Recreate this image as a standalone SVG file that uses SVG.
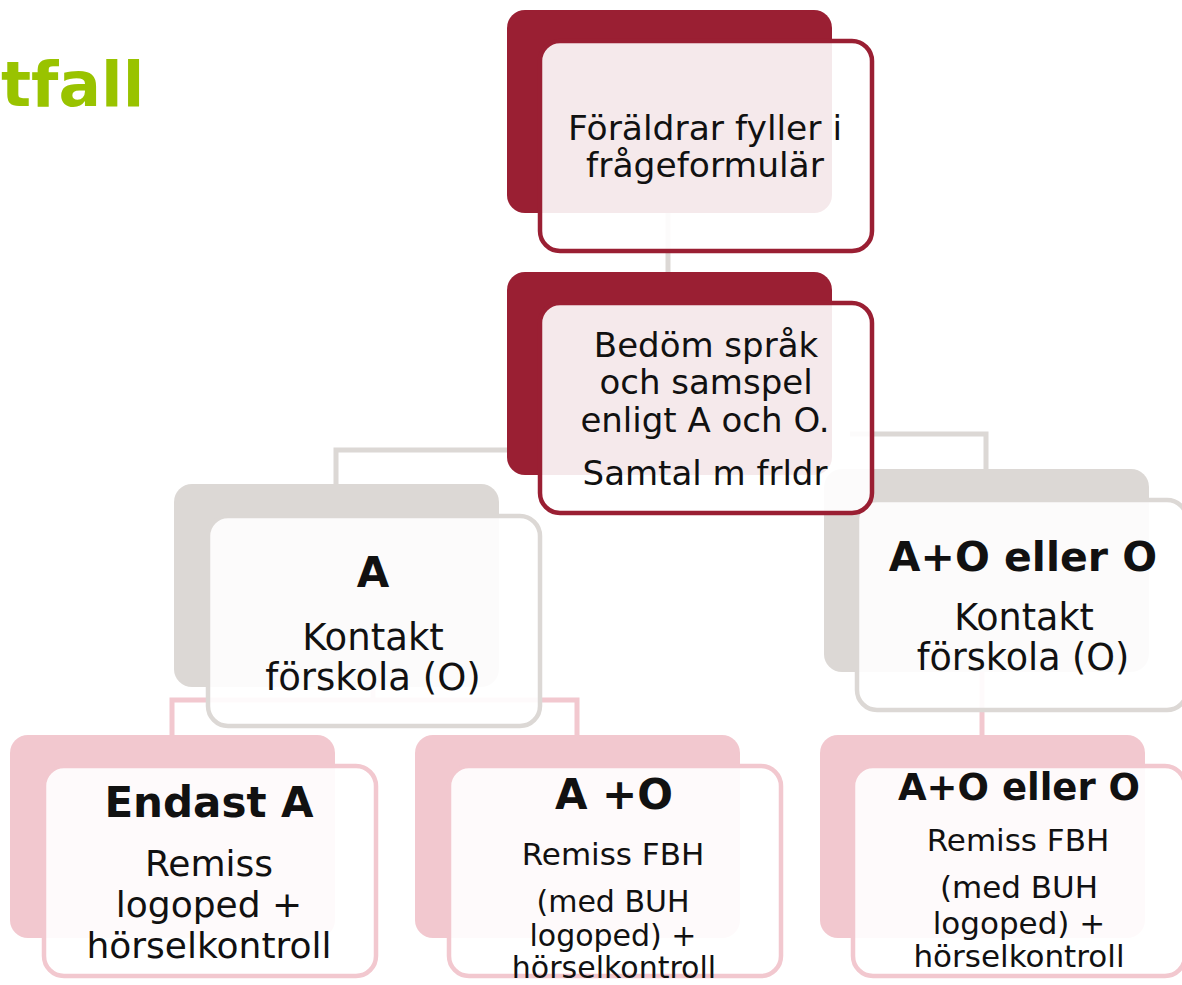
<svg xmlns="http://www.w3.org/2000/svg" width="1182" height="985" viewBox="0 0 1182 985">
<style>
text{font-family:"DejaVu Sans","Verdana",sans-serif;fill:#111;text-anchor:middle}
.b{font-weight:bold}
.back{stroke:none}
.front{fill:#fff;fill-opacity:0.9;stroke-width:4.5}
.red .back{fill:#9a1f33}.red .front{stroke:#9a1f33}
.gray .back{fill:#dcd8d5}.gray .front{stroke:#dcd8d5}
.pink .back{fill:#f2c8cf}.pink .front{stroke:#f2c8cf}
.cg{fill:none;stroke:#dcd8d5;stroke-width:5}
.cp{fill:none;stroke:#f2c8cf;stroke-width:5}
</style>
<rect width="1182" height="985" fill="#fff"/>
<text x="1" y="106" class="b" style="font-size:63px;fill:#99c300;text-anchor:start">tfall</text>
<g id="connectors">
<path class="cg" d="M668 213V272"/>
<path class="cg" d="M520 450H336V484"/>
<path class="cg" d="M850 434H986V469"/>
<path class="cp" d="M373 700H172V735M373 700H577V735M373 688V700"/>
<path class="cp" d="M982 672V735"/>
</g>
<g id="n_right_mid" class="gray">
<rect class="back" x="824" y="469" width="325" height="203" rx="18"/>
<rect class="front" x="857" y="500" width="330" height="210" rx="20"/>
<text x="1023" y="571" class="b" font-size="41">A+O eller O</text>
<text x="1024" y="630" font-size="36.5">Kontakt</text>
<text x="1023" y="670" font-size="36.5">förskola (O)</text>
</g>
<g id="n_top" class="red">
<rect class="back" x="507" y="10" width="325" height="203" rx="18"/>
<rect class="front" x="540" y="41" width="332" height="210" rx="20"/>
<text x="705" y="140" font-size="34.5">Föräldrar fyller i</text>
<text x="705" y="177" font-size="34.5">frågeformulär</text>
</g>
<g id="n_assess" class="red">
<rect class="back" x="507" y="272" width="325" height="203" rx="18"/>
<rect class="front" x="540" y="303" width="332" height="210" rx="20"/>
<text x="706" y="357" font-size="34">Bedöm språk</text>
<text x="706" y="394" font-size="34">och samspel</text>
<text x="705" y="432" font-size="34">enligt A och O.</text>
<text x="705" y="485" font-size="34">Samtal m frldr</text>
</g>
<g id="n_A" class="gray">
<rect class="back" x="174" y="484" width="325" height="203" rx="18"/>
<rect class="front" x="208" y="516" width="332" height="210" rx="20"/>
<text x="373" y="587" class="b" font-size="42">A</text>
<text x="373" y="650" font-size="37">Kontakt</text>
<text x="373" y="690" font-size="37">förskola (O)</text>
</g>
<g id="n_endastA" class="pink">
<rect class="back" x="10" y="735" width="325" height="203" rx="18"/>
<rect class="front" x="44" y="766" width="332" height="210" rx="20"/>
<text x="209" y="817" class="b" font-size="42">Endast A</text>
<text x="209" y="876" font-size="36">Remiss</text>
<text x="209" y="917" font-size="36">logoped +</text>
<text x="209" y="958" font-size="36">hörselkontroll</text>
</g>
<g id="n_AO" class="pink">
<rect class="back" x="415" y="735" width="325" height="203" rx="18"/>
<rect class="front" x="449" y="766" width="332" height="210" rx="20"/>
<text x="614" y="809" class="b" font-size="42">A +O</text>
<text x="613" y="865" font-size="31">Remiss FBH</text>
<text x="613" y="912" font-size="30">(med BUH</text>
<text x="613" y="946" font-size="30">logoped) +</text>
<text x="614" y="978" font-size="30">hörselkontroll</text>
</g>
<g id="n_AOO" class="pink">
<rect class="back" x="820" y="735" width="325" height="203" rx="18"/>
<rect class="front" x="853" y="766" width="332" height="210" rx="20"/>
<text x="1019" y="800" class="b" font-size="37">A+O eller O</text>
<text x="1018" y="851" font-size="31">Remiss FBH</text>
<text x="1019" y="898" font-size="31">(med BUH</text>
<text x="1019" y="934" font-size="31">logoped) +</text>
<text x="1019" y="967" font-size="31">hörselkontroll</text>
</g>
</svg>
